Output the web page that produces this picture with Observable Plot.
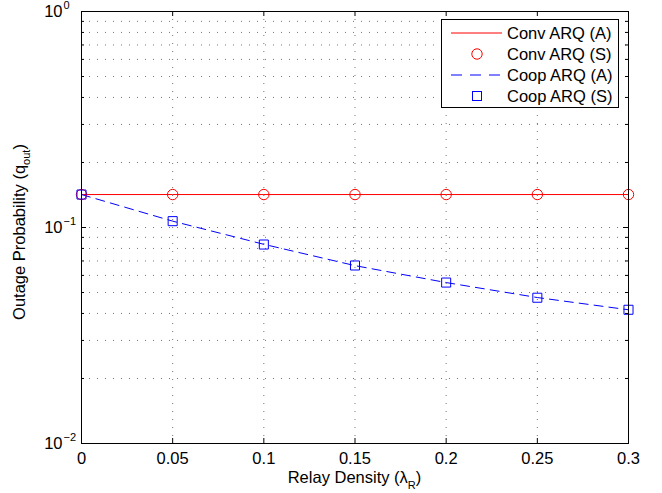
<!DOCTYPE html>
<html><head><meta charset="utf-8">
<script src="https://cdn.jsdelivr.net/npm/d3@7"></script>
<script src="https://cdn.jsdelivr.net/npm/@observablehq/plot@0.6"></script>
<style>html,body{margin:0;padding:0;background:#fff} #chart{width:662px;height:493px}</style>
</head><body><div id="chart"></div>
<script>
// ---- data ----
const relayDensity = [0, 0.05, 0.1, 0.15, 0.2, 0.25, 0.3];
const convAnalytic = [0.1421, 0.1421, 0.1421, 0.1421, 0.1421, 0.1421, 0.1421];
const convSim      = [0.1421, 0.1421, 0.1421, 0.1421, 0.1421, 0.1421, 0.1421];
const coopAnalytic = [0.1421, 0.1070, 0.0836, 0.0666, 0.0556, 0.0474, 0.0416];
const coopSim      = [0.1421, 0.1070, 0.0834, 0.0667, 0.0556, 0.0473, 0.0416];
const xTicks = [0, 0.05, 0.1, 0.15, 0.2, 0.25, 0.3];
const xTickLabels = ["0", "0.05", "0.1", "0.15", "0.2", "0.25", "0.3"];
const xGridTicks = [0.05, 0.1, 0.15, 0.2, 0.25];
const yMajorTicks = [0.01, 0.1, 1];
const yExponents = ["\u22122", "\u22121", "0"];
const yMinorTicks = [0.02, 0.03, 0.04, 0.05, 0.06, 0.07, 0.08, 0.09, 0.2, 0.3, 0.4, 0.5, 0.6, 0.7, 0.8, 0.9];
const yGridTicks = [0.02, 0.03, 0.04, 0.05, 0.06, 0.07, 0.08, 0.09, 0.1, 0.2, 0.3, 0.4, 0.5, 0.6, 0.7, 0.8, 0.9];
const seriesNames = ["Conv ARQ (A)", "Conv ARQ (S)", "Coop ARQ (A)", "Coop ARQ (S)"];
const xLabel = ["Relay Density (\u03bb", "R", ")"];
const yLabel = ["Outage Probability (q", "out", ")"];

// ---- layout ----
const W = 662, H = 493, mL = 81, mR = 34, mT = 11, mB = 50;
const plotW = W - mL - mR, plotH = H - mT - mB;
const FONT = "'Liberation Sans', Arial, Helvetica, sans-serif";
const FS = 16.5;
const RED = "#ff0000", BLUE = "#0000ff";

const conv = relayDensity.map((x, i) => ({x, a: convAnalytic[i], s: convSim[i]}));
const coop = relayDensity.map((x, i) => ({x, a: coopAnalytic[i], s: coopSim[i]}));

const chart = Plot.plot({
  width: W, height: H,
  marginLeft: mL, marginRight: mR, marginTop: mT, marginBottom: mB,
  style: {fontFamily: FONT, fontSize: FS + "px", background: "#fff", color: "#000", overflow: "visible"},
  x: {domain: [0, 0.3], label: null},
  y: {type: "log", domain: [0.01, 1], label: null, axis: null},
  marks: [
    Plot.ruleY(yGridTicks, {y: d => d, stroke: "#000", strokeOpacity: 0.55, strokeDasharray: "1,7"}),
    Plot.ruleX(xGridTicks, {x: d => d, stroke: "#000", strokeOpacity: 0.55, strokeDasharray: "1,7"}),
    Plot.line(conv, {x: "x", y: "a", stroke: RED, strokeWidth: 1}),
    Plot.line(coop, {x: "x", y: "a", stroke: BLUE, strokeWidth: 1, strokeDasharray: "9,6"}),
    Plot.dot(conv, {x: "x", y: "s", symbol: "circle", r: 5.2, stroke: RED, fill: "none", strokeWidth: 1}),
    Plot.dot(coop, {x: "x", y: "s", symbol: "square", r: 5.1, stroke: BLUE, fill: "none", strokeWidth: 1}),
    Plot.frame({stroke: "#000", strokeWidth: 1}),
    // inward ticks
    Plot.ruleX(xTicks, {x: d => d, insetTop: plotH - 5, stroke: "#000"}),
    Plot.ruleX(xTicks, {x: d => d, insetBottom: plotH - 5, stroke: "#000"}),
    Plot.ruleY(yMajorTicks, {y: d => d, insetRight: plotW - 5, stroke: "#000"}),
    Plot.ruleY(yMajorTicks, {y: d => d, insetLeft: plotW - 5, stroke: "#000"}),
    Plot.ruleY(yMinorTicks, {y: d => d, insetRight: plotW - 3, stroke: "#000"}),
    Plot.ruleY(yMinorTicks, {y: d => d, insetLeft: plotW - 3, stroke: "#000"}),
    Plot.axisX({ticks: xTicks, tickSize: 0, tickPadding: 9, fontSize: FS,
      tickFormat: d => xTickLabels[xTicks.indexOf(d)]}),
    Plot.text(yMajorTicks, {y: d => d, text: () => "10", frameAnchor: "left",
      textAnchor: "end", dx: -19, fontSize: FS}),
    Plot.text(yMajorTicks, {y: d => d, text: (d, i) => yExponents[i], frameAnchor: "left",
      textAnchor: "start", dx: -18, dy: -6, fontSize: 11})
  ]
});
document.getElementById("chart").appendChild(chart);

// ---- axis labels with subscripts ----
const svg = d3.select(chart);
const xl = svg.append("text").attr("x", mL + plotW / 2).attr("y", 483)
  .attr("text-anchor", "middle").attr("font-size", FS).attr("font-family", FONT).attr("fill", "#000");
xl.append("tspan").text(xLabel[0]);
xl.append("tspan").attr("font-size", 11).attr("dy", 6).text(xLabel[1]);
xl.append("tspan").attr("dy", -6).text(xLabel[2]);

const yl = svg.append("text").attr("transform", `translate(25,${mT + plotH / 2 + 5}) rotate(-90)`)
  .attr("text-anchor", "middle").attr("font-size", FS).attr("font-family", FONT).attr("fill", "#000");
yl.append("tspan").text(yLabel[0]);
yl.append("tspan").attr("font-size", 11).attr("dy", 5).text(yLabel[1]);
yl.append("tspan").attr("dy", -5).text(yLabel[2]);

// ---- legend ----
const lg = svg.append("g").attr("font-family", FONT).attr("font-size", FS).attr("text-anchor", "start");
lg.append("rect").attr("x", 441.5).attr("y", 19.5).attr("width", 177).attr("height", 88)
  .attr("fill", "#fff").attr("stroke", "#000");
const rows = [33, 54, 75, 96];
const lx1 = 451, lx2 = 502, mx = 477, tx = 507;
lg.append("line").attr("x1", lx1).attr("x2", lx2).attr("y1", rows[0]).attr("y2", rows[0]).attr("stroke", RED);
lg.append("circle").attr("cx", mx).attr("cy", rows[1]).attr("r", 5.2).attr("fill", "none").attr("stroke", RED);
lg.append("line").attr("x1", lx1).attr("x2", lx2).attr("y1", rows[2]).attr("y2", rows[2]).attr("stroke", BLUE).attr("stroke-dasharray", "11,8");
lg.append("rect").attr("x", mx - 4.5).attr("y", rows[3] - 4.5).attr("width", 9).attr("height", 9).attr("fill", "none").attr("stroke", BLUE);
seriesNames.forEach((n, i) => {
  lg.append("text").attr("x", tx).attr("y", rows[i]).attr("dy", "0.36em").attr("text-anchor", "start").attr("fill", "#000").text(n);
});
</script>
</body></html>
